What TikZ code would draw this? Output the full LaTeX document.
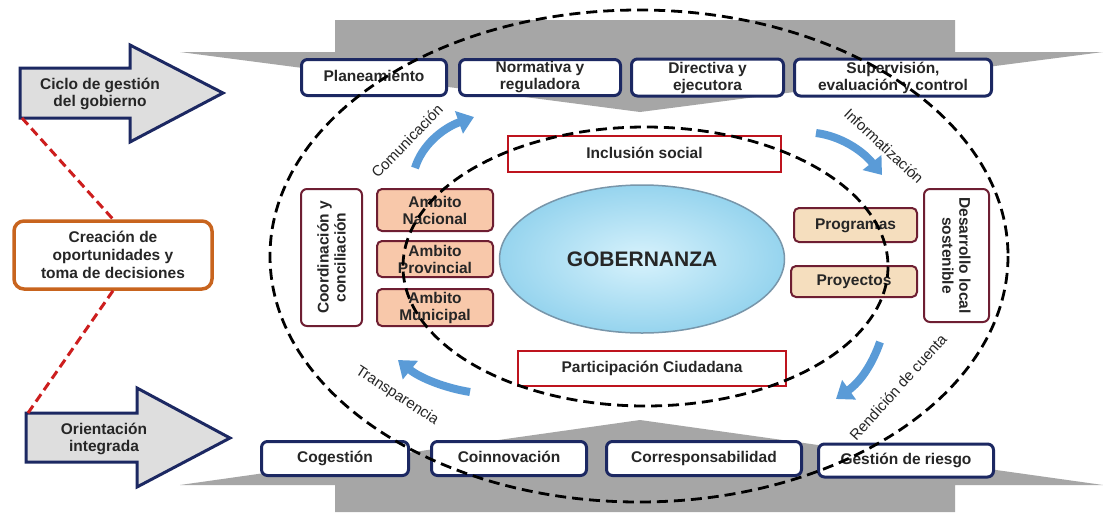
\documentclass[tikz,border=0pt]{standalone}
\usepackage{fontspec}
\setmainfont{Liberation Sans}
\usetikzlibrary{arrows.meta,shapes.geometric}
\definecolor{navy}{RGB}{28,40,98}
\definecolor{bandgray}{RGB}{166,166,166}
\definecolor{arrowfill}{RGB}{222,222,222}
\definecolor{orangeb}{RGB}{200,100,30}
\definecolor{redd}{RGB}{205,30,30}
\definecolor{redbox}{RGB}{190,20,30}
\definecolor{maroon}{RGB}{110,30,50}
\definecolor{peach}{RGB}{248,200,170}
\definecolor{wheat}{RGB}{245,222,190}
\definecolor{bluearr}{RGB}{90,155,215}
\definecolor{txt}{RGB}{38,38,38}
\definecolor{ellin}{RGB}{215,242,252}
\definecolor{ellout}{RGB}{150,212,238}
\definecolor{ellb}{RGB}{120,150,170}
\tikzset{
  bx/.style={font=\bfseries\fontsize{15.5}{17}\selectfont, text=txt, align=center, inner sep=1pt},
  one/.style={text height=11.5pt, text depth=3.5pt},
  navybox/.style={bx, draw=navy, line width=3pt, fill=white, rounded corners=6pt},
  redrect/.style={bx, one, draw=redbox, line width=2.5pt, fill=white},
  ambox/.style={bx, draw=maroon, line width=2pt, fill=peach, rounded corners=5pt, minimum width=116pt},
  prbox/.style={bx, one, draw=maroon, line width=2pt, fill=wheat, rounded corners=5pt},
  sidebox/.style={bx, draw=maroon, line width=2pt, fill=white, rounded corners=6pt},
  lbl/.style={font=\fontsize{15}{17}\selectfont, text=txt, inner sep=0pt},
  blockarrow/.style={draw=navy, line width=3pt, fill=arrowfill, line join=miter},
  band/.style={fill=bandgray},
  bluecurve/.style={draw=bluearr, line width=8pt, -{Triangle[width=23pt,length=16pt]}},
  bigdash/.style={draw=black, line width=2.8pt, dash pattern=on 11pt off 6pt},
  reddash/.style={draw=redd, line width=3pt, dash pattern=on 9pt off 5pt}
}
\begin{document}
\begin{tikzpicture}[x=1pt,y=-1pt]
\useasboundingbox (0,0) rectangle (1103,512);
\fill[white] (0,0) rectangle (1103,512);

% gray bands
\path[band] (335,20) -- (955,20) -- (955,52) -- (1103,52) -- (640,112) -- (180,52) -- (335,52) -- cycle;
\path[band] (180,485) -- (640,420) -- (1103,485) -- (955,485) -- (955,512) -- (335,512) -- (335,485) -- cycle;

% left block arrows
\path[blockarrow] (20,68) -- (130,68) -- (130,45) -- (223,93) -- (130,142) -- (130,118) -- (20,118) -- cycle;
\coordinate (a1sw) at (22,118);
\node[bx] (ciclo) at (100,94) {Ciclo de gestión\\del gobierno};
\path[blockarrow] (26,413) -- (137,413) -- (137,388) -- (230,438) -- (137,487) -- (137,462) -- (26,462) -- cycle;
\coordinate (a2nw) at (28,413);
\node[bx] (orient) at (104,439) {Orientación\\integrada};

% orange box
\node[bx, draw=orangeb, line width=3.5pt, rounded corners=10pt, fill=white,
      minimum width=198pt, minimum height=68pt, font=\bfseries\fontsize{15.5}{18}\selectfont] (orb) at (113,255)
      {Creación de\\oportunidades y\\toma de decisiones};
\draw[reddash] (a1sw) -- (orb.north);
\draw[reddash] (orb.south) -- (a2nw);

% top boxes
\node[navybox, one, minimum width=145pt, minimum height=36pt] (plan) at (374,77.5) {Planeamiento};
\node[navybox, minimum width=161pt, minimum height=36pt] (norm) at (540,77.5) {Normativa y\\reguladora};
\node[navybox, minimum width=152pt, minimum height=37pt] (dir) at (707.5,77.5) {Directiva y\\ejecutora};
\node[navybox, minimum width=197pt, minimum height=37pt] (sup) at (893,77.5) {Supervisión,\\evaluación y control};

% bottom boxes
\node[navybox, one, minimum width=147pt, minimum height=34pt] (cog) at (335,458.5) {Cogestión};
\node[navybox, one, minimum width=155pt, minimum height=34pt] (coi) at (509,458.5) {Coinnovación};
\node[navybox, one, minimum width=195pt, minimum height=34pt] (cor) at (704,458.5) {Corresponsabilidad};
\node[navybox, one, minimum width=175pt, minimum height=33pt] (ges) at (906,460.5) {Gestión de riesgo};

% inner red boxes
\node[redrect, minimum width=273pt, minimum height=36pt] (incl) at (644.5,154) {Inclusión social};
\node[redrect, minimum width=268pt, minimum height=35pt] (part) at (652,368.5) {Participación Ciudadana};

% central ellipse
\node[ellipse, draw=ellb, line width=1.5pt, inner color=ellin, outer color=ellout,
      minimum width=285pt, minimum height=148pt, font=\bfseries\fontsize{21}{23}\selectfont, text=txt] (gob) at (642,259) {GOBERNANZA};

% left side
\node[sidebox, rotate=90, minimum width=137pt, minimum height=61pt] (coord) at (331.5,257.5) {Coordinación y\\conciliación};
\node[ambox, minimum height=42pt] (nac) at (435,210) {Ambito\\Nacional};
\node[ambox, minimum height=36pt] (prov) at (435,259) {Ambito\\Provincial};
\node[ambox, minimum height=37pt] (mun) at (435,307.5) {Ambito\\Municipal};

% right side
\node[prbox, minimum width=123pt, minimum height=34pt] (prog) at (855.5,225) {Programas};
\node[prbox, minimum width=126pt, minimum height=31pt] (proy) at (854,281.5) {Proyectos};
\node[sidebox, rotate=-90, minimum width=133pt, minimum height=65pt] (des) at (956.5,255.5) {Desarrollo local\\sostenible};

% blue curved arrows
\coordinate (b1s) at (415,168); \coordinate (b1e) at (474,117);
\coordinate (b2s) at (816,133); \coordinate (b2e) at (882,175);
\coordinate (b3s) at (880,342); \coordinate (b3e) at (836,399);
\coordinate (b4s) at (470,392); \coordinate (b4e) at (398,360);
\draw[bluecurve] (b1s) .. controls (422,145) and (443,128) .. (b1e);
\draw[bluecurve] (b2s) .. controls (840,136) and (862,150) .. (b2e);
\draw[bluecurve] (b3s) .. controls (872,365) and (860,382) .. (b3e);
\draw[bluecurve] (b4s) .. controls (445,388) and (420,378) .. (b4e);

% rotated labels
\node[lbl, rotate=46] (com) at (407,141) {Comunicación};
\node[lbl, rotate=-43] (inf) at (884,146) {Informatización};
\node[lbl, rotate=48] (ren) at (898,387) {Rendición de cuenta};
\node[lbl, rotate=-33] (tra) at (397,396) {Transparencia};

% dashed ellipses
\draw[bigdash] (639,256) ellipse [x radius=369, y radius=246];
\draw[bigdash] (645.5,266.5) ellipse [x radius=242.5, y radius=139.5];
\end{tikzpicture}
\end{document}
